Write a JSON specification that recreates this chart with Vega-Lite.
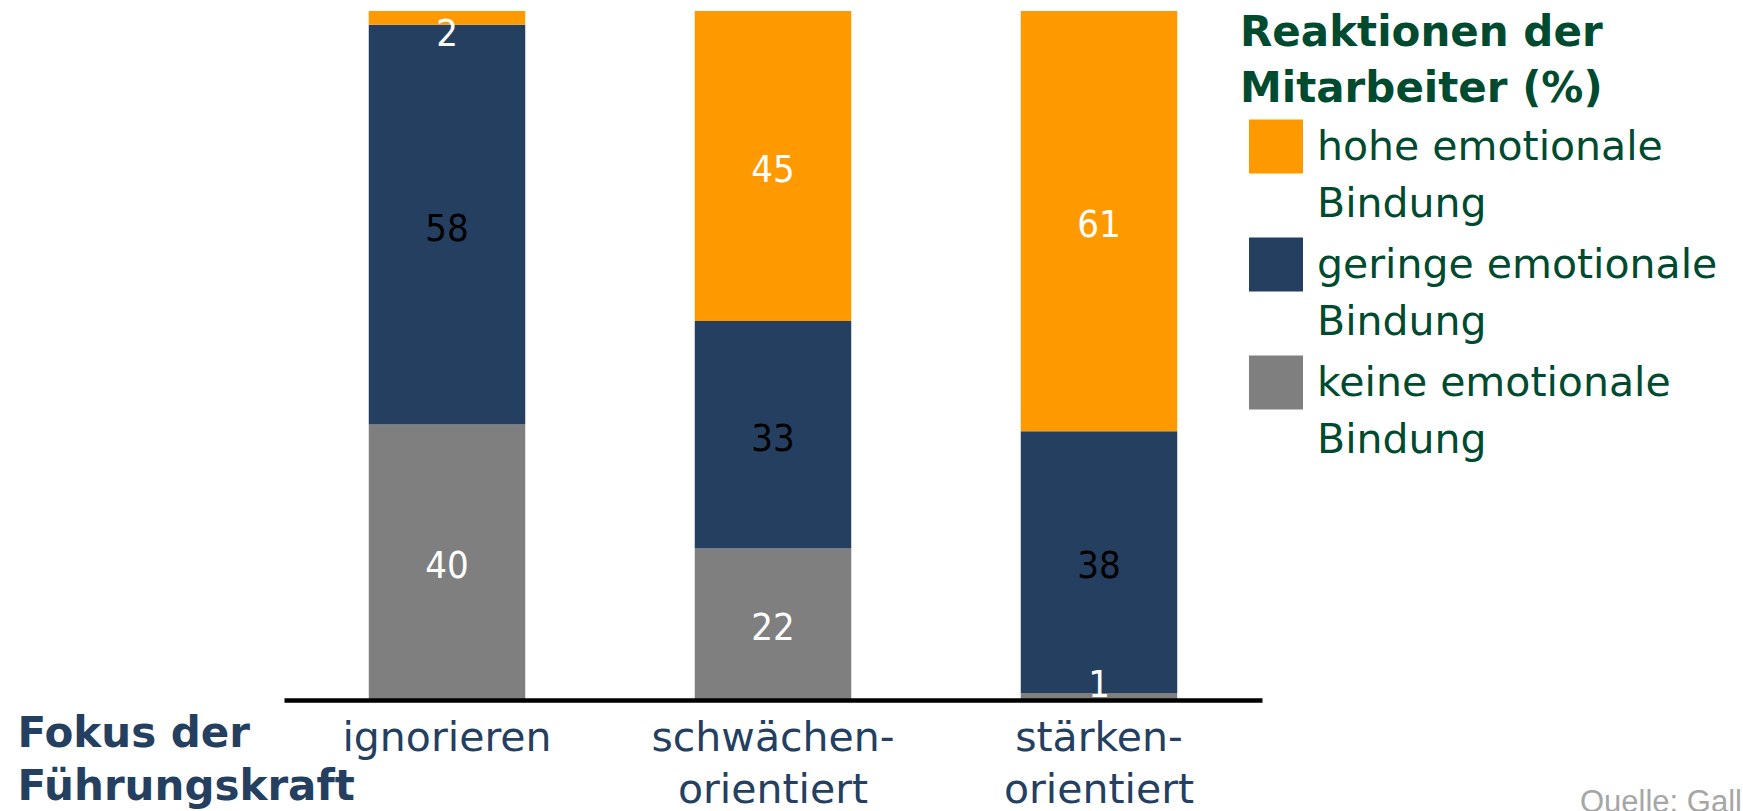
{
  "$schema": "https://vega.github.io/schema/vega-lite/v6.json",
  "autosize": {"type": "none"},
  "padding": {"left": 284, "top": 11, "right": 481, "bottom": 111},
  "width": 978,
  "height": 689,
  "background": "white",
  "config": {"view": {"stroke": null}, "style": {"guide-label": {"lineHeight": 57}}},
  "title": {
    "text": "Quelle: Gallup",
    "orient": "bottom",
    "anchor": "start",
    "frame": "group",
    "font": "Liberation Sans",
    "fontSize": 31,
    "fontWeight": "normal",
    "color": "#A6A6A6",
    "baseline": "alphabetic",
    "offset": 0,
    "dx": 1296,
    "dy": 2
  },
  "data": {
    "values": [
      {"Fokus": "ignorieren", "Reaktion": "keine emotionale Bindung", "Anteil": 40},
      {"Fokus": "ignorieren", "Reaktion": "geringe emotionale Bindung", "Anteil": 58},
      {"Fokus": "ignorieren", "Reaktion": "hohe emotionale Bindung", "Anteil": 2},
      {"Fokus": "schwächen-orientiert", "Reaktion": "keine emotionale Bindung", "Anteil": 22},
      {"Fokus": "schwächen-orientiert", "Reaktion": "geringe emotionale Bindung", "Anteil": 33},
      {"Fokus": "schwächen-orientiert", "Reaktion": "hohe emotionale Bindung", "Anteil": 45},
      {"Fokus": "stärken-orientiert", "Reaktion": "keine emotionale Bindung", "Anteil": 1},
      {"Fokus": "stärken-orientiert", "Reaktion": "geringe emotionale Bindung", "Anteil": 38},
      {"Fokus": "stärken-orientiert", "Reaktion": "hohe emotionale Bindung", "Anteil": 61}
    ]
  },
  "transform": [
    {"calculate": "indexof(['keine emotionale Bindung','geringe emotionale Bindung','hohe emotionale Bindung'], datum.Reaktion)", "as": "k"},
    {"stack": "Anteil", "groupby": ["Fokus"], "sort": [{"field": "k", "order": "ascending"}], "as": ["y0", "y1"]},
    {"calculate": "min(max((datum.y0 + datum.y1) / 2, 2.8), 97.2)", "as": "mid"}
  ],
  "encoding": {
    "x": {
      "field": "Fokus",
      "type": "nominal",
      "sort": ["ignorieren", "schwächen-orientiert", "stärken-orientiert"],
      "scale": {"paddingInner": 0.52, "paddingOuter": 0.26},
      "axis": {
        "zindex": 1,
        "domain": true,
        "domainColor": "#000000",
        "domainWidth": 4.5,
        "ticks": false,
        "tickSize": 0,
        "labelAngle": 0,
        "labelFont": "DejaVu Sans",
        "labelFontSize": 41,
        "labelColor": "#243F60",
        "labelLineHeight": 52,
        "labelBaseline": "top",
        "labelPadding": 18,
        "labelLimit": 0,
        "labelExpr": "split(replace(datum.label, '-', '-|'), '|')",
        "title": ["Fokus der", "Führungskraft"],
        "titleFont": "DejaVu Sans",
        "titleFontWeight": "bold",
        "titleFontSize": 42,
        "titleColor": "#243F60",
        "titleLineHeight": 53,
        "titleBaseline": "top",
        "titleAlign": "left",
        "titleAnchor": "start",
        "titleX": -267,
        "titleY": 13,
        "titleLimit": 0
      }
    }
  },
  "layer": [
    {
      "mark": {"type": "bar"},
      "encoding": {
        "y": {"field": "y0", "type": "quantitative", "scale": {"domain": [0, 100], "nice": false}, "axis": null},
        "y2": {"field": "y1"},
        "color": {
          "field": "Reaktion",
          "type": "nominal",
          "scale": {
            "domain": ["hohe emotionale Bindung", "geringe emotionale Bindung", "keine emotionale Bindung"],
            "range": ["#FF9900", "#243F60", "#7F7F7F"]
          },
          "legend": {
            "orient": "none",
            "legendX": 956,
            "legendY": 2,
            "padding": 0,
            "title": ["Reaktionen der", "Mitarbeiter (%)"],
            "titleFont": "DejaVu Sans",
            "titleFontWeight": "bold",
            "titleFontSize": 42,
            "titleColor": "#004B30",
            "titleLineHeight": 56,
            "titleBaseline": "top",
            "titlePadding": -4,
            "titleLimit": 0,
            "labelFont": "DejaVu Sans",
            "labelFontSize": 41,
            "labelColor": "#004B30",
            "labelBaseline": "top",
            "labelOffset": 36,
            "labelLimit": 0,
            "labelExpr": "split(replace(datum.label, 'emotionale ', 'emotionale|'), '|')",
            "symbolType": "M-0.742,-0.516H2.742V2.968H-0.742Z",
            "symbolSize": 961,
            "symbolStrokeWidth": 0,
            "symbolOpacity": 1,
            "rowPadding": 0
          }
        }
      }
    },
    {
      "mark": {"type": "text", "font": "DejaVu Sans Condensed", "fontSize": 38, "baseline": "middle", "align": "center", "dy": 5},
      "encoding": {
        "y": {"field": "mid", "type": "quantitative"},
        "text": {"field": "Anteil", "type": "quantitative"},
        "color": {
          "condition": {"test": "datum.Reaktion == 'geringe emotionale Bindung'", "value": "#000000"},
          "value": "#FFFFFF"
        }
      }
    }
  ]
}
